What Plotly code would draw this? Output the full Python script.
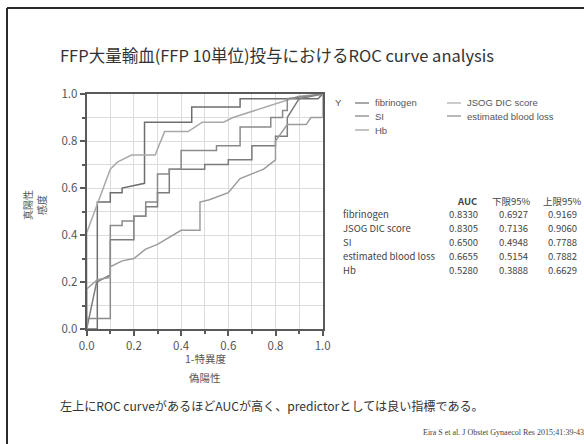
import plotly.graph_objects as go

# ---------------- data ----------------
series_names = ["fibrinogen", "JSOG DIC score", "SI", "estimated blood loss", "Hb"]

fib_fpr = [0, 0.045, 0.045, 0.10, 0.10, 0.15, 0.15, 0.245, 0.245, 0.445, 0.445, 0.65, 0.65, 0.98, 1.0]
fib_tpr = [0, 0, 0.54, 0.54, 0.58, 0.58, 0.60, 0.62, 0.88, 0.88, 0.945, 0.945, 0.98, 0.98, 1.0]

jsog_fpr = [0, 0, 0.10, 0.13, 0.19, 0.29, 0.33, 0.43, 0.46, 0.49, 0.58, 0.62, 0.90, 1.0]
jsog_tpr = [0, 0.41, 0.68, 0.71, 0.74, 0.74, 0.84, 0.84, 0.86, 0.88, 0.88, 0.90, 0.99, 1.0]

si_fpr = [0, 0.042, 0.1, 0.1, 0.2, 0.2, 0.25, 0.25, 0.3, 0.3, 0.35, 0.35, 0.5, 0.5, 0.6, 0.6, 0.7, 0.7, 0.8, 0.8, 0.85, 0.85, 0.9, 1.0]
si_tpr = [0, 0.20, 0.23, 0.38, 0.38, 0.48, 0.48, 0.52, 0.52, 0.58, 0.58, 0.68, 0.68, 0.70, 0.70, 0.72, 0.72, 0.78, 0.78, 0.82, 0.82, 0.90, 0.98, 1.0]

ebl_fpr = [0, 0, 0.1, 0.1, 0.15, 0.15, 0.2, 0.2, 0.25, 0.25, 0.3, 0.3, 0.35, 0.35, 0.4, 0.4, 0.55, 0.55, 0.65, 0.65, 0.78, 0.78, 0.83, 0.83, 0.85, 0.85, 1.0]
ebl_tpr = [0, 0.045, 0.045, 0.44, 0.44, 0.46, 0.46, 0.48, 0.48, 0.54, 0.54, 0.66, 0.66, 0.68, 0.68, 0.76, 0.76, 0.78, 0.78, 0.86, 0.86, 0.90, 0.90, 0.93, 0.93, 0.98, 1.0]

hb_fpr = [0, 0, 0.045, 0.1, 0.1, 0.15, 0.2, 0.25, 0.3, 0.4, 0.48, 0.48, 0.52, 0.6, 0.65, 0.75, 0.8, 0.8, 0.85, 0.93, 0.95, 1.0, 1.0]
hb_tpr = [0, 0.17, 0.21, 0.22, 0.265, 0.29, 0.30, 0.34, 0.36, 0.42, 0.42, 0.54, 0.55, 0.58, 0.64, 0.68, 0.72, 0.80, 0.87, 0.87, 0.90, 0.90, 1.0]

auc_values = ["0.8330", "0.8305", "0.6500", "0.6655", "0.5280"]
lower95 = ["0.6927", "0.7136", "0.4948", "0.5154", "0.3888"]
upper95 = ["0.9169", "0.9060", "0.7788", "0.7882", "0.6629"]
table_headers = ["AUC", "下限95%", "上限95%"]

x_ticks = [0.0, 0.2, 0.4, 0.6, 0.8, 1.0]
y_ticks = [0.0, 0.2, 0.4, 0.6, 0.8, 1.0]

title_text = "FFP大量輸血(FFP 10単位)投与におけるROC curve analysis"
note_text = "左上にROC curveがあるほどAUCが高く、predictorとしては良い指標である。"
cite_text = "Eira S et al. J Obstet Gynaecol Res 2015;41:39-43"

# ---------------- figure ----------------
W, H = 584, 444
L, R, T, B = 86.7, 322.7, 94, 329
colors = ["#6e6e6e", "#a9a9a9", "#7c7c7c", "#8a8a8a", "#9c9c9c"]
xs = [fib_fpr, jsog_fpr, si_fpr, ebl_fpr, hb_fpr]
ys = [fib_tpr, jsog_tpr, si_tpr, ebl_tpr, hb_tpr]

fig = go.Figure()
for name, x, y, c in zip(series_names, xs, ys, colors):
    fig.add_trace(go.Scatter(x=x, y=y, mode="lines", name=name,
                             line=dict(color=c, width=1.5), showlegend=False))

cjk = "Noto Sans CJK JP"
axis_common = dict(range=[0, 1], showline=True, mirror=True, linecolor="#5a5a5a", linewidth=2,
                   ticks="outside", ticklen=5, tickwidth=1.5, tickcolor="#5a5a5a",
                   showgrid=True, gridcolor="#dcdcdc", gridwidth=1, zeroline=False,
                   tickformat=".1f", tickfont=dict(family=cjk, size=11.5, color="#555555"),
                   minor=dict(dtick=0.1, showgrid=True, gridcolor="#dcdcdc", ticks="outside",
                              ticklen=3, tickcolor="#5a5a5a"))
fig.update_xaxes(tickvals=x_ticks, domain=[L / W, R / W], **axis_common)
fig.update_yaxes(tickvals=y_ticks, domain=[1 - B / H, 1 - T / H], **axis_common)

fig.update_layout(width=W, height=H, margin=dict(l=0, r=0, t=0, b=0, autoexpand=False),
                  paper_bgcolor="white", plot_bgcolor="white", showlegend=False,
                  font=dict(family=cjk, color="#333333"))

def px(xp):
    return xp / W

def py(yp):
    return 1 - yp / H

ann = []
def text(x, y, s, size, color="#333333", xanchor="center", family=cjk, angle=0):
    ann.append(dict(x=px(x), y=py(y), xref="paper", yref="paper", text=s, showarrow=False,
                    xanchor=xanchor, yanchor="middle", textangle=angle,
                    font=dict(family=family, size=size, color=color)))

text(277, 55, title_text, 16.5, "#333333")
text(205, 358, "1-特異度", 10.5, "#555555")
text(205, 377, "偽陽性", 10.5, "#555555")
text(27, 205, "真陽性", 10, "#555555", angle=-90)
text(41, 205, "感度", 10, "#555555", angle=-90)
text(272, 405, note_text, 12.1, "#333333")
text(586, 432, cite_text, 8, "#444444", xanchor="right", family="Liberation Serif")

# legend (manual, two columns)
text(333, 103, "Y", 9.5, "#555555", xanchor="left", family="Liberation Sans")
leg_pos = [(355, 103), (447, 103), (355, 116), (447, 116), (355, 130)]
shapes = []
for (lx, ly), name, c in zip(leg_pos, series_names, colors):
    shapes.append(dict(type="line", xref="paper", yref="paper", x0=px(lx), x1=px(lx + 14),
                       y0=py(ly), y1=py(ly), line=dict(color=c, width=1.2)))
    text(lx + 18, ly, name, 9.5, "#555555", xanchor="left", family="Liberation Sans")

# table
hdr_y = 201
cols = [463, 513, 562]
for cx, h in zip([467, 511, 562], table_headers):
    text(cx, hdr_y, "<b>AUC</b>" if h == "AUC" else h, 9.5, "#444444")
row_y = [214, 228, 242, 256, 270]
for i, name in enumerate(series_names):
    text(341, row_y[i], name, 9.5, "#444444", xanchor="left")
    text(cols[0], row_y[i], auc_values[i], 9.5, "#444444")
    text(cols[1], row_y[i], lower95[i], 9.5, "#444444")
    text(cols[2], row_y[i], upper95[i], 9.5, "#444444")

# slide frame (left and top edges)
shapes.append(dict(type="line", xref="paper", yref="paper", x0=px(7), x1=px(7), y0=0, y1=py(8),
                   line=dict(color="#2a2a2a", width=2)))
shapes.append(dict(type="line", xref="paper", yref="paper", x0=px(7), x1=1, y0=py(8), y1=py(8),
                   line=dict(color="#2a2a2a", width=2)))

fig.update_layout(annotations=ann, shapes=shapes)
fig.write_html("out.html", config={"displayModeBar": False},
               post_script="document.body.style.margin='0';document.body.style.padding='0';")
